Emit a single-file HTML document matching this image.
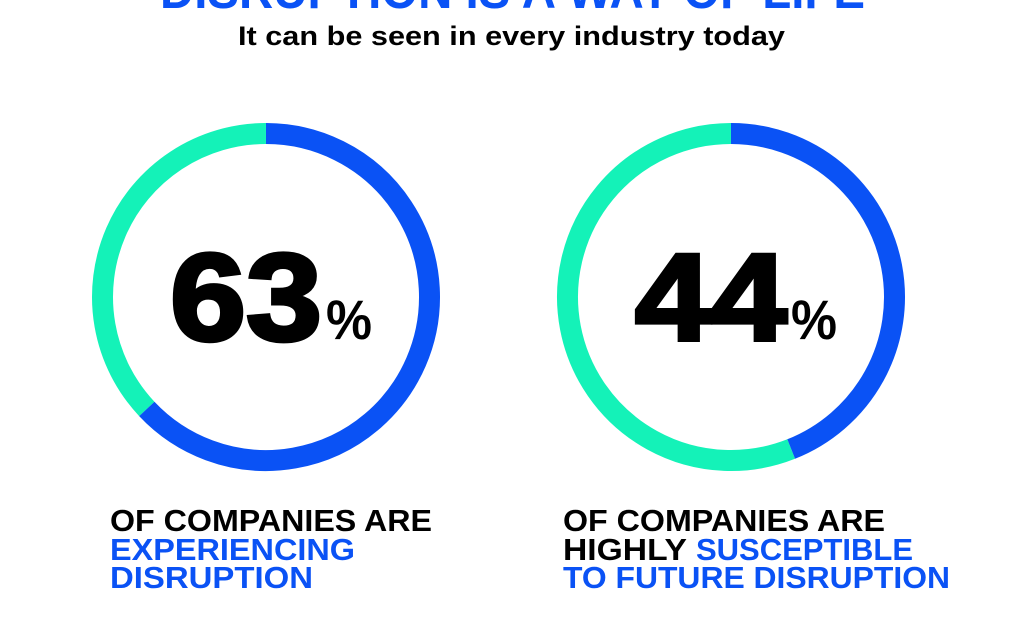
<!DOCTYPE html>
<html><head><meta charset="utf-8"><style>
html,body{margin:0;padding:0;background:#fff;}
svg{display:block;font-family:"Liberation Sans",sans-serif;font-weight:bold;}
</style></head><body>
<svg id="chart" width="1024" height="628" viewBox="0 0 1024 628">
<text x="160" y="8" font-size="50" fill="#0a52f5" textLength="705" lengthAdjust="spacingAndGlyphs">DISRUPTION IS A WAY OF LIFE</text>
<text x="238" y="45" font-size="27" fill="#000" textLength="547" lengthAdjust="spacingAndGlyphs">It can be seen in every industry today</text>
<g id="donuts"></g>
<g>
<text x="110" y="531" font-size="31" fill="#000" textLength="322" lengthAdjust="spacingAndGlyphs">OF COMPANIES ARE</text>
<text x="110" y="560" font-size="31" fill="#0a52f5" textLength="245" lengthAdjust="spacingAndGlyphs">EXPERIENCING</text>
<text x="110" y="588" font-size="31" fill="#0a52f5" textLength="203" lengthAdjust="spacingAndGlyphs">DISRUPTION</text>
</g>
<g>
<text x="563" y="531" font-size="31" fill="#000" textLength="322" lengthAdjust="spacingAndGlyphs">OF COMPANIES ARE</text>
<text x="563" y="560" font-size="31" fill="#000" textLength="124" lengthAdjust="spacingAndGlyphs">HIGHLY</text>
<text x="696" y="560" font-size="31" fill="#0a52f5" textLength="217" lengthAdjust="spacingAndGlyphs">SUSCEPTIBLE</text>
<text x="563" y="588" font-size="31" fill="#0a52f5" textLength="387" lengthAdjust="spacingAndGlyphs">TO FUTURE DISRUPTION</text>
</g>
</svg>
<script>
const categories = ["experiencing-disruption", "susceptible-to-future-disruption"];
const values = [63, 44];
const labels = ["63", "44"];

const NS = "http://www.w3.org/2000/svg";
const g = document.getElementById("donuts");
const centersX = [266, 731];
const cy = 297, r = 163.5, sw = 21;
function angle(p){ return p / 100 * 2 * Math.PI; }
function pt(a){ return [Math.sin(a) * r, -Math.cos(a) * r]; }
function arcPath(cx, a0, a1){
  const [x0, y0] = pt(a0), [x1, y1] = pt(a1);
  const large = (a1 - a0) > Math.PI ? 1 : 0;
  return `M${cx + x0},${cy + y0} A${r},${r} 0 ${large} 1 ${cx + x1},${cy + y1}`;
}
values.forEach((v, i) => {
  const cx = centersX[i];
  const bg = document.createElementNS(NS, "path");
  bg.setAttribute("d", arcPath(cx, angle(v), angle(100) - 0.0001));
  bg.setAttribute("fill", "none");
  bg.setAttribute("stroke", "#14f2b8");
  bg.setAttribute("stroke-width", sw);
  
  
  g.appendChild(bg);
  const fg = document.createElementNS(NS, "path");
  fg.setAttribute("d", arcPath(cx, 0, angle(v)));
  fg.setAttribute("fill", "none");
  fg.setAttribute("stroke", "#0a52f5");
  fg.setAttribute("stroke-width", sw);
  
  
  g.appendChild(fg);
  const t = document.createElementNS(NS, "text");
  t.setAttribute("x", cx - 96);
  t.setAttribute("y", 340);
  t.setAttribute("font-size", "124");
  t.setAttribute("font-weight", "900");
  t.setAttribute("fill", "#000");
  t.setAttribute("textLength", "152");
  t.setAttribute("lengthAdjust", "spacingAndGlyphs");
  t.setAttribute("stroke", "#000");
  t.setAttribute("stroke-width", "4");
  t.textContent = labels[i];
  
  
  g.appendChild(t);
  const p = document.createElementNS(NS, "text");
  p.setAttribute("x", cx + 60);
  p.setAttribute("y", 339);
  p.setAttribute("font-size", "56");
  p.setAttribute("fill", "#000");
  p.setAttribute("textLength", "46");
  p.setAttribute("lengthAdjust", "spacingAndGlyphs");
  p.textContent = "%";
  
  
  g.appendChild(p);
});
</script>
</body></html>
